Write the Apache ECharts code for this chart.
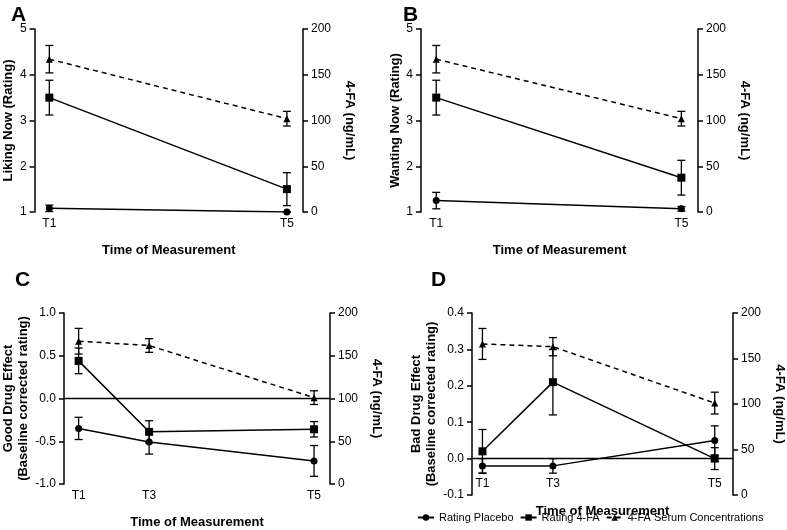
<!DOCTYPE html>
<html><head><meta charset="utf-8">
<script src="https://cdn.jsdelivr.net/npm/echarts@6/dist/echarts.min.js"></script>
<style>html,body{margin:0;background:#fff}#c{width:787px;height:530px}</style>
</head><body><div id="c"></div>
<script>
const tickPos = [5.5, 32, 94];
const tickLabels = ['T1', 'T3', 'T5'];
// panel A
const aX = [5.5, 94];
const aPlacebo = [1.08, 1.0], aPlaceboErr = [0.07, 0.0];
const aFA = [3.5, 1.5], aFAErr = [0.38, 0.36];
const aSerum = [167, 102], aSerumErr = [15, 8];
// panel B
const bPlacebo = [1.25, 1.07], bPlaceboErr = [0.18, 0.05];
const bFA = [3.5, 1.75], bFAErr = [0.38, 0.38];
const bSerum = [167, 102], bSerumErr = [15, 8];
// panel C
const cX = [5.5, 32, 94];
const cPlacebo = [-0.35, -0.51, -0.73], cPlaceboErr = [0.13, 0.14, 0.18];
const cFA = [0.44, -0.39, -0.36], cFAErr = [0.15, 0.13, 0.09];
const cSerum = [167, 162, 101], cSerumErr = [15, 8, 8];
// panel D
const dX = [4, 31, 93];
const dPlacebo = [-0.02, -0.02, 0.05], dPlaceboErr = [0.02, 0.02, 0.04];
const dFA = [0.02, 0.21, 0.0], dFAErr = [0.06, 0.09, 0.03];
const dSerum = [166, 163, 101], dSerumErr = [17, 10, 12];

const F = 'Liberation Sans, Arial, sans-serif';
const panels = [
  {x: aX, p: aPlacebo, pe: aPlaceboErr, f: aFA, fe: aFAErr, s: aSerum, se: aSerumErr,
   grid: {left: 28, top: 29, width: 275, height: 183}, yMin: 1, yMax: 5, yInt: 1, name: 'Liking Now (Rating)', labels: [0, 2], zero: false, dec: 0},
  {x: aX, p: bPlacebo, pe: bPlaceboErr, f: bFA, fe: bFAErr, s: bSerum, se: bSerumErr,
   grid: {left: 421, top: 29, width: 277, height: 183}, yMin: 1, yMax: 5, yInt: 1, name: 'Wanting Now (Rating)', labels: [0, 2], zero: false, dec: 0},
  {x: cX, p: cPlacebo, pe: cPlaceboErr, f: cFA, fe: cFAErr, s: cSerum, se: cSerumErr,
   grid: {left: 55, top: 313, width: 275, height: 183}, yMin: -1, yMax: 1, yInt: 0.5, name: 'Good Drug Effect\n(Baseline corrected rating)', labels: [0, 1, 2], zero: true, dec: 1},
  {x: dX, p: dPlacebo, pe: dPlaceboErr, f: dFA, fe: dFAErr, s: dSerum, se: dSerumErr,
   grid: {left: 472, top: 313, width: 273, height: 182}, yMin: -0.1, yMax: 0.4, yInt: 0.1, name: 'Bad Drug Effect\n(Baseline corrected rating)', labels: [0, 1, 2], zero: true, dec: 1}
];
const axisCommon = {axisLine: {show: true, lineStyle: {color: '#000', width: 1.5}}, axisTick: {show: true, length: 5, lineStyle: {color: '#000', width: 1.5}}, splitLine: {show: false}, axisLabel: {color: '#000', fontFamily: F, fontSize: 12}};
const option = {animation: false, backgroundColor: '#fff', grid: [], xAxis: [], yAxis: [], series: [], title: [],
  legend: {bottom: 2, left: 412, width: 380, itemGap: 6, itemWidth: 16, itemHeight: 8, textStyle: {fontFamily: F, fontSize: 11, color: '#000'},
    data: ['Rating Placebo', 'Rating 4-FA', '4-FA Serum Concentrations']}};
['A', 'B', 'C', 'D'].forEach((t, i) => {
  const pos = [[6, 0], [398, 0], [10, 265], [426, 265]][i];
  option.title.push({text: t, left: pos[0], top: pos[1], textStyle: {fontFamily: F, fontSize: 21, fontWeight: 'bold', color: '#000'}});
});
function errSeries(xs, ys, es, xi, yi) {
  return {type: 'custom', xAxisIndex: xi, yAxisIndex: yi, silent: true, z: 1,
    data: xs.map((x, k) => [x, ys[k] - es[k], ys[k] + es[k]]),
    renderItem: (params, api) => {
      const lo = api.coord([api.value(0), api.value(1)]), hi = api.coord([api.value(0), api.value(2)]);
      const st = {stroke: '#000', lineWidth: 1.3};
      return {type: 'group', children: [
        {type: 'line', shape: {x1: lo[0], y1: lo[1], x2: hi[0], y2: hi[1]}, style: st},
        {type: 'line', shape: {x1: lo[0] - 4, y1: lo[1], x2: lo[0] + 4, y2: lo[1]}, style: st},
        {type: 'line', shape: {x1: hi[0] - 4, y1: hi[1], x2: hi[0] + 4, y2: hi[1]}, style: st}]};
    }};
}
panels.forEach((P, i) => {
  option.grid.push(P.grid);
  option.xAxis.push({type: 'value', gridIndex: i, min: 0, max: 100,
    name: 'Time of Measurement', nameLocation: 'middle', nameGap: i === 3 ? 10 : 32,
    nameTextStyle: {fontFamily: F, fontSize: 13, fontWeight: 'bold', color: '#000'},
    axisLine: {show: false}, axisTick: {show: false}, splitLine: {show: false},
    axisLabel: {color: '#000', fontFamily: F, fontSize: 12, margin: i === 3 ? -17 : 6, customValues: P.labels.map(k => i === 3 ? dX[k] : (i < 2 ? aX[k === 2 ? 1 : 0] : tickPos[k])),
      formatter: v => { const idx = (i === 3 ? dX : tickPos).indexOf(v); if (i < 2) return v === aX[0] ? 'T1' : 'T5'; return tickLabels[idx]; }}});
  option.yAxis.push(Object.assign({}, axisCommon, {type: 'value', gridIndex: i, min: P.yMin, max: P.yMax, interval: P.yInt, position: 'left',
    name: P.name, nameLocation: 'middle', nameGap: P.zero ? 33 : 16, nameRotate: 90,
    nameTextStyle: {fontFamily: F, fontSize: 13, fontWeight: 'bold', color: '#000', lineHeight: 15},
    axisLabel: Object.assign({}, axisCommon.axisLabel, {formatter: v => v.toFixed(P.dec)})}));
  option.yAxis.push(Object.assign({}, axisCommon, {type: 'value', gridIndex: i, min: 0, max: 200, interval: 50, position: 'right',
    name: '4-FA (ng/mL)', nameLocation: 'middle', nameGap: 40, nameRotate: -90,
    nameTextStyle: {fontFamily: F, fontSize: 13, fontWeight: 'bold', color: '#000'}}));
  const yl = 2 * i, yr = 2 * i + 1;
  const ls = {color: '#000', width: 1.5};
  option.series.push({name: 'Rating Placebo', type: 'line', xAxisIndex: i, yAxisIndex: yl, data: P.x.map((x, k) => [x, P.p[k]]), symbol: 'circle', symbolSize: 7, itemStyle: {color: '#000'}, lineStyle: ls, z: 3,
    markLine: P.zero ? {silent: true, symbol: 'none', label: {show: false}, lineStyle: {color: '#000', width: 1.3, type: 'solid'}, data: [{yAxis: 0}]} : undefined});
  option.series.push({name: 'Rating 4-FA', type: 'line', xAxisIndex: i, yAxisIndex: yl, data: P.x.map((x, k) => [x, P.f[k]]), symbol: 'rect', symbolSize: 8, itemStyle: {color: '#000'}, lineStyle: ls, z: 3});
  option.series.push({name: '4-FA Serum Concentrations', type: 'line', xAxisIndex: i, yAxisIndex: yr, data: P.x.map((x, k) => [x, P.s[k]]), symbol: 'triangle', symbolSize: 7, itemStyle: {color: '#000'}, lineStyle: {color: '#000', width: 1.5, type: [5, 4]}, z: 3});
  option.series.push(errSeries(P.x, P.p, P.pe, i, yl));
  option.series.push(errSeries(P.x, P.f, P.fe, i, yl));
  option.series.push(errSeries(P.x, P.s, P.se, i, yr));
});
echarts.init(document.getElementById('c')).setOption(option);
</script></body></html>
